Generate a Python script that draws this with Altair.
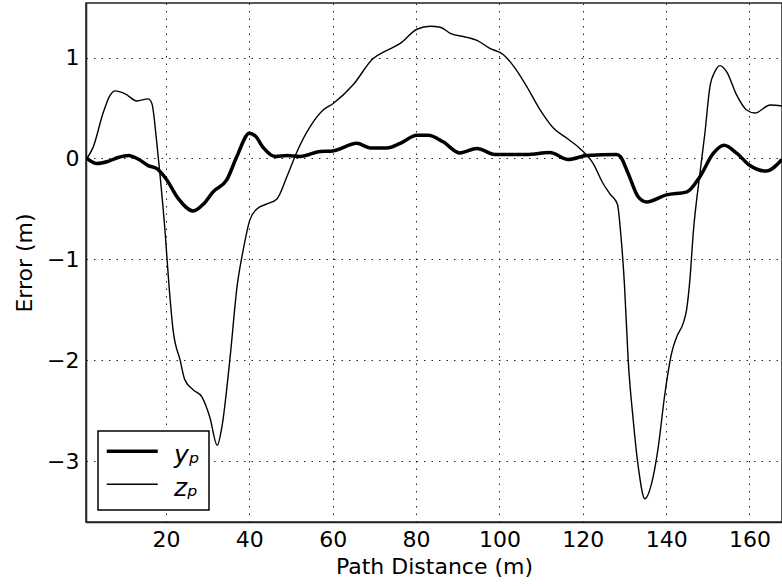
import altair as alt
import pandas as pd

# y_p error series (path distance m, error m)
yp_x = [1, 3.4, 6, 8.5, 11, 13.5, 15.7, 17.8, 20, 23, 26.5, 29, 31.3, 34.6, 37, 40, 41.5,
        43.3, 46.2, 49, 52.2, 57, 60, 65.8, 69, 73, 76.2, 80.2, 82.9, 86.5, 90.5, 94.6,
        98.9, 106.6, 112.1, 116.5, 121, 128.1, 129, 130.9, 133.3, 135.3, 140.1, 145,
        148.1, 151.3, 153.9, 157, 160.1, 164.0, 167.8]
yp_v = [0, -0.05, -0.03, 0.01, 0.03, -0.01, -0.07, -0.1, -0.2, -0.4, -0.52, -0.45, -0.33,
        -0.21, 0.02, 0.25, 0.22, 0.11, 0.02, 0.03, 0.02, 0.07, 0.075, 0.15, 0.105, 0.105,
        0.15, 0.23, 0.23, 0.165, 0.055, 0.10, 0.04, 0.04, 0.06, -0.01, 0.03, 0.04, 0.02,
        -0.15, -0.38, -0.43, -0.36, -0.33, -0.18, 0.05, 0.13, 0.05, -0.07, -0.125, -0.01]

# z_p error series
zp_x = [1, 2.5, 4.9, 6.5, 7.8, 10.2, 13, 15.7, 16.6, 17.8, 18.6, 19.8, 20.7, 21.7, 23.4,
        24.5, 26.5, 28.6, 30.5, 32.3, 33.4, 35.3, 37.1, 38.5, 40.1, 41.8, 44.2, 46.6, 49,
        51.4, 54.5, 57.7, 60.1, 64.9, 69.7, 72.5, 76.2, 80.2, 83.4, 85.8, 88.2, 92.2,
        94.6, 97.7, 100.9, 103.3, 106.6, 109.8, 113, 116.2, 119.3, 122.5, 124.9, 126.5,
        128.3, 129.1, 130, 130.9, 132.1, 133.3, 134.9, 136.5, 138.1, 139.7, 141.3, 142.5,
        144.1, 144.9, 145.7, 146.5, 148.1, 149.3, 150.5, 151.7, 152.9, 154.5, 156.9,
        159.3, 161.3, 165, 167.8]
zp_v = [0, 0.11, 0.45, 0.62, 0.67, 0.64, 0.57, 0.59, 0.545, 0.15, -0.18, -0.74, -1.25,
        -1.70, -2.0, -2.19, -2.29, -2.36, -2.56, -2.84, -2.66, -2.0, -1.25, -0.91, -0.61,
        -0.50, -0.45, -0.40, -0.18, 0.065, 0.31, 0.48, 0.545, 0.73, 0.99, 1.06, 1.14,
        1.28, 1.31, 1.30, 1.24, 1.20, 1.17, 1.09, 1.03, 0.92, 0.71, 0.48, 0.30, 0.20,
        0.10, -0.05, -0.25, -0.35, -0.45, -0.74, -1.25, -2.0, -2.59, -3.05, -3.37, -3.22,
        -2.86, -2.33, -1.93, -1.77, -1.63, -1.50, -1.2, -0.74, -0.15, 0.25, 0.71, 0.86,
        0.92, 0.86, 0.63, 0.48, 0.45, 0.53, 0.52]

series_names = ["yₚ", "zₚ"]
line_widths = [3.5, 1.4]
x_ticks = [20, 40, 60, 80, 100, 120, 140, 160]
y_ticks = [-3, -2, -1, 0, 1]

df = pd.concat([
    pd.DataFrame({"d": yp_x, "err": yp_v, "series": series_names[0]}),
    pd.DataFrame({"d": zp_x, "err": zp_v, "series": series_names[1]}),
])

FONT = "DejaVu Sans"

chart = alt.Chart(df).mark_line(color="black", interpolate="monotone", clip=True).encode(
    x=alt.X("d:Q", title="Path Distance (m)",
            scale=alt.Scale(domain=[0.8, 167.8], nice=False, zero=False),
            axis=alt.Axis(values=x_ticks, format="d")),
    y=alt.Y("err:Q", title="Error (m)",
            scale=alt.Scale(domain=[-3.6, 1.54], nice=False, zero=False),
            axis=alt.Axis(values=y_ticks, format="d")),
    strokeWidth=alt.StrokeWidth("series:N",
                                scale=alt.Scale(domain=series_names, range=line_widths),
                                legend=alt.Legend(title=None, orient="bottom-left")),
    detail="series:N",
).properties(
    width=696, height=519,
    autosize=alt.AutoSizeParams(type="none"),
    padding={"left": 86, "top": 3, "right": 0, "bottom": 64},
).configure_view(
    stroke="#222", strokeWidth=1.5
).configure_axis(
    labelFont=FONT, labelFontSize=22, labelColor="black",
    titleFont=FONT, titleFontSize=22, titleColor="black", titleFontWeight="normal",
    ticks=False, domainColor="#222", domainWidth=1.5,
    grid=True, gridColor="#222", gridDash=[1.5, 6], gridWidth=1, gridOpacity=1,
).configure_axisX(
    labelPadding=7, titlePadding=6,
).configure_axisY(
    labelPadding=7, titlePadding=10,
).configure_legend(
    offset=12, padding=9, strokeColor="black", strokeWidth=1.5, fillColor="white",
    cornerRadius=0,
    symbolType="M-1.157,-0.25H2.843", symbolSize=650, symbolStrokeColor="black",
    labelFont=FONT, labelFontSize=25, labelFontStyle="italic", labelColor="black",
    labelOffset=38, rowPadding=6,
)

chart.save("out.html", embed_options={"renderer": "svg", "actions": False})
